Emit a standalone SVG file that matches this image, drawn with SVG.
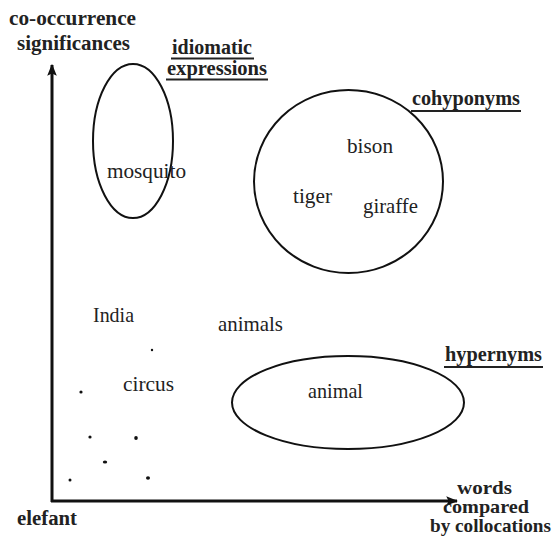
<svg xmlns="http://www.w3.org/2000/svg" width="554" height="547" viewBox="0 0 554 547">
<defs>
<style>
text{font-family:'Liberation Serif','Times New Roman','DejaVu Serif',serif;font-size:21px;fill:#222}
.b{font-weight:bold;font-size:20px}
.s{font-size:19px}
.ul{stroke:#222;stroke-width:2}
.set{fill:none;stroke:#111;stroke-width:2}
.dot{fill:#111}
</style>
<marker id="ah" viewBox="0 0 10 10" refX="9" refY="5" markerWidth="4" markerHeight="4" orient="auto" markerUnits="strokeWidth">
<path d="M0,1 L10,5 L0,9 L2,5 Z" fill="#111"/>
</marker>
</defs>
<rect width="554" height="547" fill="#fff"/>
<g id="connectors">
<line x1="52" y1="502" x2="52" y2="65" stroke="#111" stroke-width="3" marker-end="url(#ah)"/>
<line x1="51" y1="501" x2="457" y2="501" stroke="#111" stroke-width="3" marker-end="url(#ah)"/>
</g>
<g font-family="Liberation Serif, Times New Roman, serif">
<g id="axis-y-label">
<text class="b" x="9" y="25" textLength="127" lengthAdjust="spacingAndGlyphs">co-occurrence</text>
<text class="b" x="17" y="50" textLength="113" lengthAdjust="spacingAndGlyphs">significances</text>
</g>
<g id="axis-x-label">
<text class="b s" x="457" y="494" textLength="55" lengthAdjust="spacingAndGlyphs">words</text>
<text class="b s" x="443" y="513" textLength="86" lengthAdjust="spacingAndGlyphs">compared</text>
<text class="b s" x="430" y="532" textLength="121" lengthAdjust="spacingAndGlyphs">by collocations</text>
</g>
<g id="origin-label">
<text class="b" x="17" y="525" textLength="60" lengthAdjust="spacingAndGlyphs">elefant</text>
</g>
<g id="idiomatic">
<ellipse class="set" cx="133" cy="141" rx="40" ry="77"/>
<text class="b" x="172" y="54" textLength="80" lengthAdjust="spacingAndGlyphs">idiomatic</text>
<line class="ul" x1="171" y1="58.5" x2="254" y2="58.5"/>
<text class="b" x="167" y="75" textLength="100" lengthAdjust="spacingAndGlyphs">expressions</text>
<line class="ul" x1="166" y1="79.5" x2="268" y2="79.5"/>
<text x="107" y="178" textLength="79" lengthAdjust="spacingAndGlyphs">mosquito</text>
</g>
<g id="cohyponyms">
<ellipse class="set" cx="348.5" cy="181.5" rx="94.5" ry="91.5"/>
<text class="b" x="412" y="105" textLength="108" lengthAdjust="spacingAndGlyphs">cohyponyms</text>
<line class="ul" x1="411" y1="111" x2="521" y2="111"/>
<text x="347" y="153" textLength="46" lengthAdjust="spacingAndGlyphs">bison</text>
<text x="293" y="203" textLength="39" lengthAdjust="spacingAndGlyphs">tiger</text>
<text x="363" y="213" textLength="55" lengthAdjust="spacingAndGlyphs">giraffe</text>
</g>
<g id="hypernyms">
<ellipse class="set" cx="348" cy="402.5" rx="116" ry="46.5"/>
<text class="b" x="445" y="361" textLength="97" lengthAdjust="spacingAndGlyphs">hypernyms</text>
<line class="ul" x1="444" y1="367" x2="543" y2="367"/>
<text x="308" y="398" textLength="55" lengthAdjust="spacingAndGlyphs">animal</text>
</g>
<g id="loose-words">
<text x="93" y="322" textLength="41" lengthAdjust="spacingAndGlyphs">India</text>
<text x="218" y="331" textLength="65" lengthAdjust="spacingAndGlyphs">animals</text>
<text x="123" y="391" textLength="51" lengthAdjust="spacingAndGlyphs">circus</text>
</g>
</g>
<g id="dots">
<circle class="dot" cx="152" cy="350" r="1.2"/>
<ellipse class="dot" cx="81" cy="392" rx="1.6" ry="1.6"/>
<ellipse class="dot" cx="90" cy="437" rx="1.6" ry="1.6"/>
<ellipse class="dot" cx="136" cy="438" rx="1.8" ry="2"/>
<ellipse class="dot" cx="105" cy="462" rx="2.2" ry="1.6"/>
<ellipse class="dot" cx="70" cy="480" rx="1.5" ry="1.5"/>
<ellipse class="dot" cx="148" cy="478" rx="2" ry="1.8"/>
</g>
</svg>
